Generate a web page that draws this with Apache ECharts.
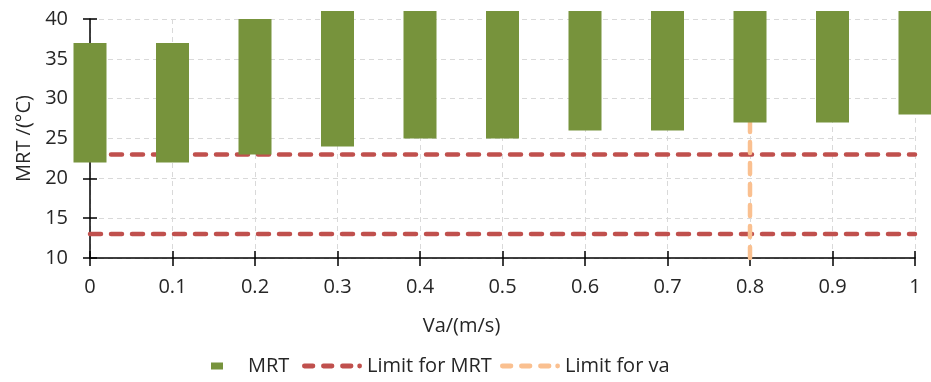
<!DOCTYPE html>
<html>
<head>
<meta charset="utf-8">
<script src="https://cdn.jsdelivr.net/npm/echarts@6/dist/echarts.min.js"></script>
<style>html,body{margin:0;padding:0;background:#fff;}#c{width:931px;height:382px;}</style>
</head>
<body>
<div id="c"></div>
<script>
var vaValues = [0, 0.1, 0.2, 0.3, 0.4, 0.5, 0.6, 0.7, 0.8, 0.9, 1];
var mrtLow  = [22, 22, 23, 24, 25, 25, 26, 26, 27, 27, 28];
var mrtHigh = [37, 37, 40, 41, 41, 41, 41, 41, 41, 41, 41];
var limitMRT = [13, 23];
var limitVa = 0.8;
var yTicks = [10, 15, 20, 25, 30, 35, 40];

var FONT = 'Open Sans';
var FS = 20;
var TXT = '#262626';
var chart = echarts.init(document.getElementById('c'));

var barData = vaValues.map(function (v, i) { return [v, mrtLow[i], mrtHigh[i]]; });

var redStyle = { color: '#C0504D', width: 4.5, type: [11, 10], cap: 'round' };
var orangeStyle = { color: '#FAC090', width: 4.5, type: [11, 10], cap: 'round' };

// legend icon: three dashes and a dot
var dashIcon = 'path://M2.5,0 L11.5,0 A2.5,2.5 0 0 1 11.5,5 L2.5,5 A2.5,2.5 0 0 1 2.5,0 Z ' +
  'M22.5,0 L31.5,0 A2.5,2.5 0 0 1 31.5,5 L22.5,5 A2.5,2.5 0 0 1 22.5,0 Z ' +
  'M42.5,0 L51.5,0 A2.5,2.5 0 0 1 51.5,5 L42.5,5 A2.5,2.5 0 0 1 42.5,0 Z ' +
  'M60.5,0 A2.5,2.5 0 0 1 60.5,5 A2.5,2.5 0 0 1 60.5,0 Z';

var series = [];
limitMRT.forEach(function (lv) {
  series.push({
    name: 'Limit for MRT', type: 'line', xAxisIndex: 0, yAxisIndex: 0,
    data: [[vaValues[0], lv], [vaValues[vaValues.length - 1], lv]],
    symbol: 'none', lineStyle: redStyle, itemStyle: { color: '#C0504D' }, z: 2, silent: true
  });
});
series.push({
  name: 'Limit for va', type: 'line', xAxisIndex: 0, yAxisIndex: 0,
  data: [[limitVa, yTicks[0]], [limitVa, yTicks[yTicks.length - 1]]],
  symbol: 'none', lineStyle: orangeStyle, itemStyle: { color: '#FAC090' }, z: 3, silent: true
});
series.push({
  name: 'MRT', type: 'custom', xAxisIndex: 0, yAxisIndex: 0,
  data: barData, clip: false, z: 4, silent: true,
  encode: { x: 0, y: [1, 2] },
  itemStyle: { color: '#77933C' },
  renderItem: function (params, api) {
    var x = api.value(0);
    var lo = api.coord([x, api.value(1)]);
    var hi = api.coord([x, api.value(2)]);
    var w = 33;
    return {
      type: 'rect',
      shape: { x: lo[0] - w / 2, y: hi[1], width: w, height: lo[1] - hi[1] },
      style: { fill: '#77933C' }
    };
  }
});

var legendCommon = {
  orient: 'horizontal', top: 351, itemGap: 5,
  textStyle: { fontFamily: FONT, fontSize: FS, color: TXT },
  selectedMode: false
};

chart.setOption({
  animation: false,
  grid: { left: 90, right: 16, top: 19, bottom: 124, containLabel: false },
  xAxis: [{
    type: 'value', min: 0, max: 1, interval: 0.1, position: 'bottom',
    name: 'Va/(m/s)', nameLocation: 'middle', nameGap: 58,
    nameTextStyle: { fontFamily: FONT, fontSize: FS, color: TXT, padding: [0, 82, 0, 0] },
    axisLine: { show: true, onZero: false, lineStyle: { color: '#000', width: 1.5 } },
    axisTick: { show: true, length: 8, lineStyle: { color: '#000', width: 1.5 } },
    axisLabel: { margin: 19, fontFamily: FONT, fontSize: FS, color: TXT,
      formatter: function (v) { return String(+v.toFixed(1)); } },
    splitLine: { show: true, lineStyle: { color: '#D9D9D9', type: [5, 4], width: 1 } }
  }, {
    type: 'value', min: 0, max: 1, interval: 0.1, position: 'top', offset: -239,
    axisLine: { show: false, onZero: false },
    axisTick: { show: true, inside: false, length: 7, lineStyle: { color: '#000', width: 1.5 } },
    axisLabel: { show: false }, splitLine: { show: false }
  }],
  yAxis: [{
    type: 'value', min: 10, max: 40, interval: 5, position: 'left',
    name: 'MRT /(°C)', nameLocation: 'middle', nameGap: 55,
    nameTextStyle: { fontFamily: FONT, fontSize: FS, color: TXT },
    axisLine: { show: true, onZero: false, lineStyle: { color: '#000', width: 1.5 } },
    axisTick: { show: true, length: 7, lineStyle: { color: '#000', width: 1.5 } },
    axisLabel: { margin: 22, fontFamily: FONT, fontSize: FS, color: TXT },
    splitLine: { show: true, lineStyle: { color: '#D9D9D9', type: [5, 4], width: 1 } }
  }, {
    type: 'value', min: 10, max: 40, interval: 5, position: 'right', offset: -825,
    axisLine: { show: false, onZero: false },
    axisTick: { show: true, inside: false, length: 7, lineStyle: { color: '#000', width: 1.5 } },
    axisLabel: { show: false }, splitLine: { show: false }
  }],
  legend: [
    Object.assign({}, legendCommon, { left: 206, data: [{ name: 'MRT', icon: 'rect' }],
      itemWidth: 12, itemHeight: 7,
      textStyle: { fontFamily: FONT, fontSize: FS, color: TXT, padding: [0, 0, 0, 20] } }),
    Object.assign({}, legendCommon, { left: 297, data: [{ name: 'Limit for MRT', icon: dashIcon, itemStyle: { color: '#C0504D' } }],
      itemWidth: 60, itemHeight: 5 }),
    Object.assign({}, legendCommon, { left: 495, data: [{ name: 'Limit for va', icon: dashIcon, itemStyle: { color: '#FAC090' } }],
      itemWidth: 60, itemHeight: 5 })
  ],
  series: series
});
</script>
</body>
</html>
